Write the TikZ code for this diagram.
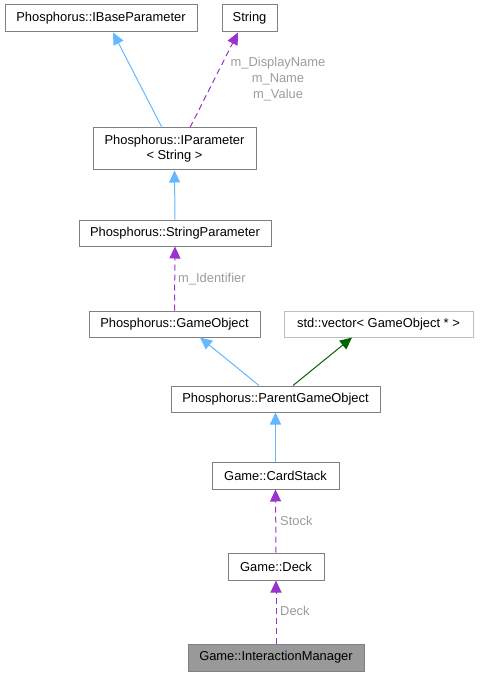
\documentclass[tikz,border=0pt]{standalone}
\usepackage{fontspec}
\setmainfont{Liberation Sans}
\usetikzlibrary{arrows.meta,calc}
\definecolor{edgeblue}{HTML}{63B8FF}
\definecolor{edgepurple}{HTML}{9A32CD}
\definecolor{edgegreen}{HTML}{006400}
\definecolor{boxborder}{HTML}{808080}
\definecolor{lightborder}{HTML}{BFBFBF}
\definecolor{labelgray}{HTML}{9C9C9C}
\definecolor{hlfill}{HTML}{999999}
\begin{document}
\begin{tikzpicture}[x=1pt,y=-1pt,
  font=\fontsize{12.9}{15}\selectfont,
  cls/.style={draw=boxborder,line width=1pt,fill=white,inner sep=0pt,minimum height=27pt,align=center},
  ext/.style={cls,draw=lightborder},
  hl/.style={cls,fill=hlfill,draw=boxborder},
  inh/.style={draw=edgeblue,line width=1pt,-{Triangle[length=12pt,width=11pt]}},
  priv/.style={draw=edgegreen,line width=1pt,-{Triangle[length=12pt,width=11pt]}},
  usage/.style={draw=edgepurple,line width=1pt,dash pattern=on 6pt off 4pt,-{Triangle[length=12pt,width=11pt]}},
  lbl/.style={text=labelgray,inner sep=0pt,align=center}
]
\useasboundingbox (0,0) rectangle (479,676);
\node[cls,minimum width=192pt] (ibase) at (101,18.5) {Phosphorus::IBaseParameter};
\node[cls,minimum width=55pt] (str) at (249.5,18.5) {String};
\node[cls,minimum width=163pt,minimum height=42pt] (ipar) at (174.5,149) {Phosphorus::IParameter\\\textless{} String \textgreater};
\node[cls,minimum width=192pt,minimum height=26pt] (spar) at (175,233) {Phosphorus::StringParameter};
\node[cls,minimum width=171pt,minimum height=26pt] (gobj) at (174.5,324) {Phosphorus::GameObject};
\node[ext,minimum width=189pt,minimum height=26pt] (vec) at (378.5,324) {std::vector\textless{} GameObject * \textgreater};
\node[cls,minimum width=209pt,minimum height=26pt] (pgo) at (275.5,399) {Phosphorus::ParentGameObject};
\node[cls,minimum width=127pt] (cstack) at (275.5,475.5) {Game::CardStack};
\node[cls,minimum width=96pt] (deck) at (276,566.5) {Game::Deck};
\node[hl,minimum width=176pt] (im) at (276,657.5) {Game::InteractionManager};

\draw[inh] ([xshift=-12.5pt]ipar.north) -- ([xshift=12pt]ibase.south);
\draw[usage] ([xshift=15.5pt]ipar.north) -- ([xshift=-11.5pt]str.south);
\node[lbl,font=\fontsize{12.9}{16}\selectfont] (lblstr) at (278,79) {m\_DisplayName\\m\_Name\\m\_Value};
\draw[inh] (spar.north) -- (ipar.south);
\draw[usage] (gobj.north) -- (spar.south);
\node[lbl,anchor=west] (lblid) at (178,279) {m\_Identifier};
\draw[inh] ([xshift=-16.5pt]pgo.north) -- ([xshift=25.5pt]gobj.south);
\draw[priv] ([xshift=17.5pt]pgo.north) -- ([xshift=-26.5pt]vec.south);
\draw[inh] (cstack.north) -- (pgo.south);
\draw[usage] (deck.north) -- (cstack.south);
\node[lbl,anchor=west] (lblstock) at (280,521) {Stock};
\draw[usage] (im.north) -- (deck.south);
\node[lbl,anchor=west] (lbldeck) at (280,611) {Deck};
\end{tikzpicture}
\end{document}
